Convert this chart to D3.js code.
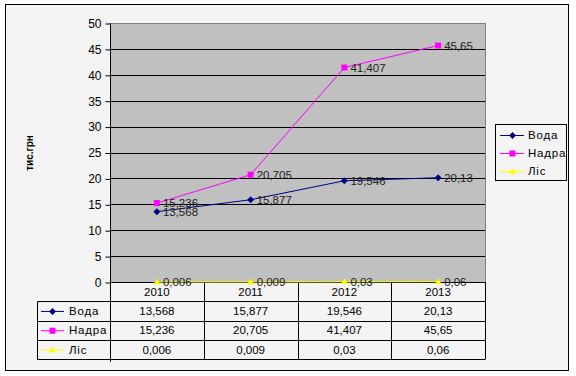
<!DOCTYPE html>
<html>
<head>
<meta charset="utf-8">
<script src="https://cdn.jsdelivr.net/npm/d3@7"></script>
<style>
  body { margin: 0; background: #fff; }
  svg text { font-family: "Liberation Sans", Arial, sans-serif; }
</style>
</head>
<body>
<div id="chart"></div>
<script>
// chart data
const years = ["2010", "2011", "2012", "2013"];
const seriesNames = ["Вода", "Надра", "Ліс"];
const voda = [13.568, 15.877, 19.546, 20.13];
const nadra = [15.236, 20.705, 41.407, 45.65];
const lis = [0.006, 0.009, 0.03, 0.06];
const yTicks = [0, 5, 10, 15, 20, 25, 30, 35, 40, 45, 50];

const W = 576, H = 376;
const plot = {left: 110, right: 485, top: 23, bottom: 282};
const rowH = 19.3;
const fmt = v => String(v).replace(".", ",");

const series = [
    {name: seriesNames[0], values: voda, color: "#000080", marker: "diamond"},
    {name: seriesNames[1], values: nadra, color: "#ff00ff", marker: "square"},
    {name: seriesNames[2], values: lis, color: "#ffff00", marker: "triangle"}
];

let svg = d3.select("#chart")
    .append("svg")
    .attr("width", W)
    .attr("height", H);

// outer frame
svg.append("rect")
    .attr("x", 5.5).attr("y", 4.5)
    .attr("width", 563).attr("height", 366)
    .attr("fill", "#f4f4f4")
    .attr("stroke", "#000");

let x = d3.scaleBand()
    .domain(years)
    .range([plot.left, plot.right]);

let y = d3.scaleLinear()
    .domain([0, 50])
    .range([plot.bottom, plot.top]);

// plot background
svg.append("rect")
    .attr("x", plot.left).attr("y", plot.top)
    .attr("width", plot.right - plot.left)
    .attr("height", plot.bottom - plot.top)
    .attr("fill", "#c0c0c0");

// gridlines
svg.append("g")
    .selectAll("line")
    .data(yTicks.slice(1))
    .enter().append("line")
    .attr("x1", plot.left).attr("x2", plot.right)
    .attr("y1", d => Math.round(y(d)) + 0.5)
    .attr("y2", d => Math.round(y(d)) + 0.5)
    .attr("stroke", d => d == 50 ? "#808080" : "#000");

// right border of plot
svg.append("line")
    .attr("x1", plot.right + 0.5).attr("x2", plot.right + 0.5)
    .attr("y1", plot.top).attr("y2", plot.bottom)
    .attr("stroke", "#808080");

// y axis
let yAxis = svg.append("g")
    .attr("transform", `translate(${plot.left + 0.5},0.5)`)
    .call(d3.axisLeft(y).tickValues(yTicks).tickSize(5).tickPadding(4));
yAxis.select(".domain").attr("d", `M0,${plot.top}V${plot.bottom + 4 * rowH + 2}`).attr("stroke", "#000");
yAxis.selectAll("text")
    .style("font-family", "'Liberation Sans', Arial, sans-serif")
    .style("font-size", "12px")
    .attr("fill", "#000");

svg.append("text")
    .attr("transform", `translate(33,153) rotate(-90)`)
    .attr("text-anchor", "middle")
    .style("font-size", "10px")
    .style("font-weight", "bold")
    .text("тис.грн");

// data table
let tbl = svg.append("g").attr("stroke", "#000").attr("fill", "none");
let tableLeft = 37.5;
tbl.append("line").attr("x1", plot.left).attr("x2", plot.right)
    .attr("y1", plot.bottom + 0.5).attr("y2", plot.bottom + 0.5);
for (let r = 1; r <= 4; r++) {
    let yy = Math.round(plot.bottom + r * rowH) + 0.5;
    tbl.append("line").attr("x1", tableLeft).attr("x2", plot.right)
        .attr("y1", yy).attr("y2", yy);
}
tbl.append("line").attr("x1", tableLeft).attr("x2", tableLeft)
    .attr("y1", Math.round(plot.bottom + rowH) + 0.5)
    .attr("y2", Math.round(plot.bottom + 4 * rowH) + 0.5);
years.forEach(function(yr) {
    let xx = Math.round(x(yr) + x.bandwidth()) + 0.5;
    tbl.append("line").attr("x1", xx).attr("x2", xx)
        .attr("y1", plot.bottom).attr("y2", Math.round(plot.bottom + 4 * rowH) + 0.5);
});

// category labels
svg.append("g")
    .selectAll("text")
    .data(years)
    .enter().append("text")
    .attr("x", d => x(d) + x.bandwidth() / 2)
    .attr("y", plot.bottom + 14)
    .attr("text-anchor", "middle")
    .style("font-size", "11.5px")
    .text(d => d);

function markerPath(type) {
    if (type == "diamond") return "M0,-3.5L3.5,0L0,3.5L-3.5,0Z";
    if (type == "square") return "M-3,-3H3V3H-3Z";
    return "M0,-3.5L3.5,2.5H-3.5Z";
}

// table rows
series.forEach(function(s, i) {
    let cy = plot.bottom + rowH * (i + 1.5);
    svg.append("line")
        .attr("x1", 41).attr("x2", 64)
        .attr("y1", cy + 0.5).attr("y2", cy + 0.5)
        .attr("stroke", s.color);
    svg.append("path")
        .attr("d", markerPath(s.marker))
        .attr("transform", `translate(52.5,${cy + 0.5})`)
        .attr("fill", s.color);
    svg.append("text")
        .attr("x", 69).attr("y", cy + 4)
        .style("font-size", "11.5px")
        .style("letter-spacing", "0.8px")
        .text(s.name);
    svg.append("g")
        .selectAll("text")
        .data(s.values)
        .enter().append("text")
        .attr("x", (d, j) => x(years[j]) + x.bandwidth() / 2)
        .attr("y", cy + 4)
        .attr("text-anchor", "middle")
        .style("font-size", "11.5px")
        .text(d => fmt(d));
});

// lines, markers, data labels
let line = d3.line()
    .x((d, j) => x(years[j]) + x.bandwidth() / 2)
    .y(d => y(d));

series.slice().reverse().forEach(function(s) {
    svg.append("path")
        .datum(s.values)
        .attr("fill", "none")
        .attr("stroke", s.color)
        .attr("stroke-width", 1)
        .attr("d", line);
});

series.forEach(function(s) {
    let g = svg.append("g");
    g.selectAll("path")
        .data(s.values)
        .enter().append("path")
        .attr("d", markerPath(s.marker))
        .attr("transform", (d, j) => `translate(${x(years[j]) + x.bandwidth() / 2},${y(d)})`)
        .attr("fill", s.color);
    g.selectAll("text")
        .data(s.values)
        .enter().append("text")
        .attr("x", (d, j) => x(years[j]) + x.bandwidth() / 2 + 6)
        .attr("y", d => y(d) + 4)
        .style("font-size", "11.5px")
        .attr("fill", "#222")
        .text(d => fmt(d));
});

// legend
let leg = svg.append("g");
leg.append("rect")
    .attr("x", 495.5).attr("y", 124.5)
    .attr("width", 71).attr("height", 56)
    .attr("fill", "#f4f4f4")
    .attr("stroke", "#000");
series.forEach(function(s, i) {
    let cy = 135 + i * 18;
    leg.append("line")
        .attr("x1", 500).attr("x2", 524)
        .attr("y1", cy + 0.5).attr("y2", cy + 0.5)
        .attr("stroke", s.color);
    leg.append("path")
        .attr("d", markerPath(s.marker))
        .attr("transform", `translate(512.5,${cy + 0.5})`)
        .attr("fill", s.color);
    leg.append("text")
        .attr("x", 528).attr("y", cy + 4)
        .style("font-size", "11.5px")
        .style("letter-spacing", "0.8px")
        .text(s.name);
});
</script>
</body>
</html>
